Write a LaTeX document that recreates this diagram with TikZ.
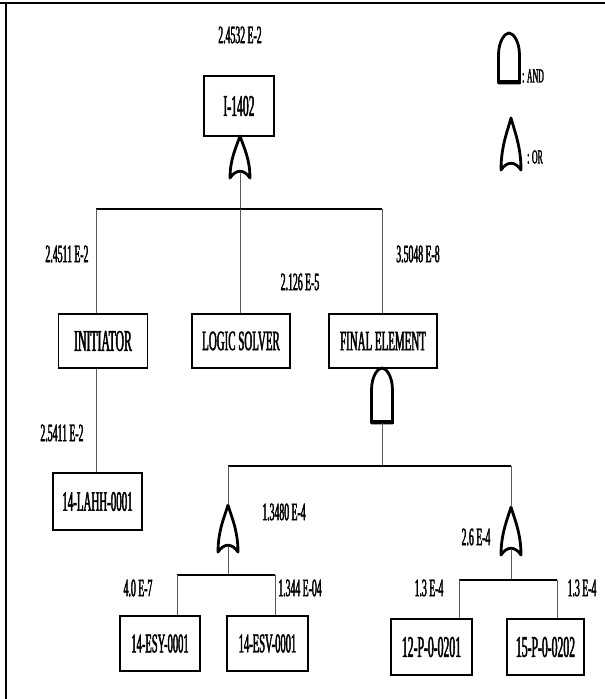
\documentclass[tikz,border=0pt]{standalone}
\usepackage{fontspec}
\setmainfont{Liberation Serif}[FakeStretch=0.39, FakeBold=1.6]
\tikzset{
  evbox/.style={draw, line width=1.4pt, inner sep=0pt, fill=white, font=\fontsize{28}{28}\selectfont},
  bigbox/.style={evbox, font=\fontsize{30}{30}\selectfont},
  prob/.style={font=\fontsize{25}{25}\selectfont, inner sep=0pt},
  legtext/.style={font=\fontsize{20}{20}\selectfont, inner sep=0pt, anchor=west},
  conn/.style={line width=1pt, draw=black!65},
  barline/.style={line width=1.5pt},
  gateline/.style={line width=2.8pt, line join=round},
}
\newcommand\orgatedraw[4]{%
  \coordinate (#1-out) at (#2,#3);
  \coordinate (#1-in) at (#2,{#4-6});
  \draw[gateline] ({#2-10},#4) .. controls ({#2-10},{#4-0.45*(#4-#3)}) and ({#2-3.5},{#3+0.25*(#4-#3)}) .. (#2,#3)
     .. controls ({#2+3.5},{#3+0.25*(#4-#3)}) and ({#2+10},{#4-0.45*(#4-#3)}) .. ({#2+10},#4)
     .. controls ({#2+4},{#4-9}) and ({#2-4},{#4-9}) .. cycle;
}
\newcommand\andgatedraw[4]{%
  \coordinate (#1-out) at (#2,#3);
  \coordinate (#1-in) at (#2,#4);
  \draw[gateline] ({#2-10.5},#4) -- ({#2-10.5},{#3+22}) .. controls ({#2-10.5},{#3+8}) and ({#2-4},#3) .. (#2,#3)
     .. controls ({#2+4},#3) and ({#2+10.5},{#3+8}) .. ({#2+10.5},{#3+22}) -- ({#2+10.5},#4) -- cycle;
  \draw[line width=4pt] ({#2-11.5},{#4-1}) -- ({#2+11.5},{#4-1});
}
\begin{document}
\begin{tikzpicture}[x=1pt,y=-1pt]
\useasboundingbox (0,0) rectangle (605,699);
\fill[white] (0,0) rectangle (605,699);
% frame
\draw[line width=2pt] (0,3) -- (605,3);
\draw[line width=2.5pt] (6,3) -- (6,699);

% boxes
\node[bigbox, minimum width=70pt, minimum height=60pt] (top) at (239,106) {I-1402};
\node[bigbox, minimum width=89pt, minimum height=54pt] (init) at (103,341) {INITIATOR};
\node[evbox, minimum width=98pt, minimum height=54pt] (logic) at (241,341) {LOGIC SOLVER};
\node[evbox, minimum width=108pt, minimum height=54pt] (final) at (383,341) {FINAL ELEMENT};
\node[evbox, minimum width=89pt, minimum height=57pt] (lahh) at (97.5,501.5) {14-LAHH-0001};
\node[evbox, font=\fontsize{27}{27}\selectfont, minimum width=80pt, minimum height=55pt] (esy) at (160,643.5) {14-ESY-0001};
\node[evbox, font=\fontsize{27}{27}\selectfont, minimum width=81pt, minimum height=55pt] (esv) at (267.5,643.5) {14-ESV-0001};
\node[evbox, font=\fontsize{30}{30}\selectfont, minimum width=81pt, minimum height=56pt] (pa) at (431.5,647) {12-P-0-0201};
\node[evbox, font=\fontsize{30}{30}\selectfont, minimum width=77pt, minimum height=56pt] (pb) at (545.5,647) {15-P-0-0202};

% gates
\orgatedraw{g1}{240}{136}{178}
\andgatedraw{g2}{382}{368}{423}
\orgatedraw{g3}{228}{505}{552}
\orgatedraw{g4}{511}{507}{555}

% junction coordinates
\coordinate (b1L) at (96,209);
\coordinate (b1M) at (240,209);
\coordinate (b1R) at (382,209);
\coordinate (b2L) at (228,466);
\coordinate (b2M) at (382,466);
\coordinate (b2R) at (511,466);
\coordinate (b3L) at (177,575);
\coordinate (b3M) at (228,575);
\coordinate (b3R) at (275,575);
\coordinate (b4L) at (459,580);
\coordinate (b4M) at (511,580);
\coordinate (b4R) at (557,580);

% connectors
\draw[conn] (g1-in) -- (b1M);
\draw[barline] (b1L) -- (b1R);
\draw[conn] (b1L) -- (b1L |- init.north);
\draw[conn] (b1M) -- (b1M |- logic.north);
\draw[conn] (b1R) -- (b1R |- final.north);
\draw[conn] (b1L |- init.south) -- (b1L |- lahh.north);

\draw[conn] (g2-in) -- (b2M);
\draw[barline] (b2L) -- (b2R);
\draw[conn] (b2L) -- (g3-out);
\draw[conn] (b2R) -- (g4-out);

\draw[conn] (g3-in) -- (b3M);
\draw[barline] (b3L) -- (b3R);
\draw[conn] (b3L) -- (b3L |- esy.north);
\draw[conn] (b3R) -- (b3R |- esv.north);

\draw[conn] (g4-in) -- (b4M);
\draw[barline] (b4L) -- (b4R);
\draw[conn] (b4L) -- (b4L |- pa.north);
\draw[conn] (b4R) -- (b4R |- pb.north);

% probabilities
\node[prob] (p0) at (240,35) {2.4532 E-2};
\node[prob] (p1) at (67,254) {2.4511 E-2};
\node[prob] (p2) at (300,282) {2.126 E-5};
\node[prob] (p3) at (418,254) {3.5048 E-8};
\node[prob] (p4) at (62,433) {2.5411 E-2};
\node[prob] (p5) at (284,512) {1.3480 E-4};
\node[prob] (p6) at (138,588) {4.0 E-7};
\node[prob] (p7) at (300,588) {1.344 E-04};
\node[prob] (p8) at (476,537) {2.6 E-4};
\node[prob] (p9) at (429,588) {1.3 E-4};
\node[prob] (p10) at (582,588) {1.3 E-4};

% legend
\andgatedraw{la}{509}{33}{83}
\node[legtext] (lat) at (522,76) {: AND};
\orgatedraw{lo}{511}{118}{170}
\node[legtext] (lot) at (527,157) {: OR};
\end{tikzpicture}
\end{document}
